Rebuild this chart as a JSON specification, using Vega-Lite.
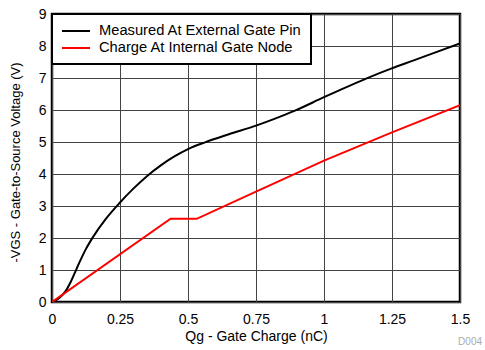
{
  "$schema": "https://vega.github.io/schema/vega-lite/v6.json",
  "width": 408,
  "height": 288,
  "autosize": {"type": "none"},
  "padding": {"left": 52, "top": 14, "right": 25, "bottom": 48},
  "background": "white",
  "config": {
    "font": "Liberation Sans",
    "view": {"stroke": "black", "strokeWidth": 2.5},
    "axis": {
      "domain": false,
      "ticks": false,
      "grid": true,
      "gridColor": "#444",
      "gridWidth": 1,
      "gridOpacity": 1,
      "labelFont": "Liberation Sans",
      "labelFontSize": 14,
      "labelColor": "#000",
      "titleFont": "Liberation Sans",
      "titleFontSize": 14,
      "titleFontWeight": "normal",
      "titleColor": "#000"
    }
  },
  "title": {
    "text": "D004",
    "orient": "bottom",
    "anchor": "end",
    "frame": "group",
    "fontSize": 10,
    "fontWeight": "normal",
    "color": "#aaa",
    "font": "Liberation Sans",
    "dx": 22,
    "offset": -6
  },
  "data": {
    "values": [
      {"q": 0, "v": 0, "s": "Measured At External Gate Pin"},
      {"q": 0.015, "v": 0.06, "s": "Measured At External Gate Pin"},
      {"q": 0.03, "v": 0.15, "s": "Measured At External Gate Pin"},
      {"q": 0.05, "v": 0.34, "s": "Measured At External Gate Pin"},
      {"q": 0.07, "v": 0.65, "s": "Measured At External Gate Pin"},
      {"q": 0.09, "v": 1.03, "s": "Measured At External Gate Pin"},
      {"q": 0.1, "v": 1.22, "s": "Measured At External Gate Pin"},
      {"q": 0.125, "v": 1.66, "s": "Measured At External Gate Pin"},
      {"q": 0.15, "v": 2.02, "s": "Measured At External Gate Pin"},
      {"q": 0.2, "v": 2.62, "s": "Measured At External Gate Pin"},
      {"q": 0.25, "v": 3.11, "s": "Measured At External Gate Pin"},
      {"q": 0.3, "v": 3.55, "s": "Measured At External Gate Pin"},
      {"q": 0.35, "v": 3.94, "s": "Measured At External Gate Pin"},
      {"q": 0.4, "v": 4.27, "s": "Measured At External Gate Pin"},
      {"q": 0.45, "v": 4.55, "s": "Measured At External Gate Pin"},
      {"q": 0.5, "v": 4.78, "s": "Measured At External Gate Pin"},
      {"q": 0.5625, "v": 4.99, "s": "Measured At External Gate Pin"},
      {"q": 0.65, "v": 5.24, "s": "Measured At External Gate Pin"},
      {"q": 0.75, "v": 5.51, "s": "Measured At External Gate Pin"},
      {"q": 0.82, "v": 5.73, "s": "Measured At External Gate Pin"},
      {"q": 0.893, "v": 5.98, "s": "Measured At External Gate Pin"},
      {"q": 1.0, "v": 6.4, "s": "Measured At External Gate Pin"},
      {"q": 1.06, "v": 6.63, "s": "Measured At External Gate Pin"},
      {"q": 1.157, "v": 6.99, "s": "Measured At External Gate Pin"},
      {"q": 1.249, "v": 7.3, "s": "Measured At External Gate Pin"},
      {"q": 1.33, "v": 7.55, "s": "Measured At External Gate Pin"},
      {"q": 1.4, "v": 7.77, "s": "Measured At External Gate Pin"},
      {"q": 1.5, "v": 8.08, "s": "Measured At External Gate Pin"},
      {"q": 0, "v": 0, "s": "Charge At Internal Gate Node"},
      {"q": 0.436, "v": 2.6, "s": "Charge At Internal Gate Node"},
      {"q": 0.532, "v": 2.6, "s": "Charge At Internal Gate Node"},
      {"q": 0.75, "v": 3.45, "s": "Charge At Internal Gate Node"},
      {"q": 1.0, "v": 4.42, "s": "Charge At Internal Gate Node"},
      {"q": 1.25, "v": 5.3, "s": "Charge At Internal Gate Node"},
      {"q": 1.5, "v": 6.15, "s": "Charge At Internal Gate Node"}
    ]
  },
  "encoding": {
    "x": {
      "field": "q",
      "type": "quantitative",
      "scale": {"domain": [0, 1.5], "nice": false, "zero": false},
      "axis": {
        "values": [0, 0.25, 0.5, 0.75, 1, 1.25, 1.5],
        "labelExpr": "datum.value",
        "labelPadding": 10,
        "labelFlush": false,
        "title": "Qg - Gate Charge (nC)",
        "titlePadding": 3
      }
    },
    "y": {
      "field": "v",
      "type": "quantitative",
      "scale": {"domain": [0, 9], "nice": false},
      "axis": {
        "values": [0, 1, 2, 3, 4, 5, 6, 7, 8, 9],
        "labelPadding": 6,
        "labelFlush": false,
        "title": "-VGS - Gate-to-Source Voltage (V)",
        "titleFontSize": 13,
        "titleY": 148,
        "titlePadding": 16
      }
    },
    "color": {
      "field": "s",
      "type": "nominal",
      "scale": {
        "domain": ["Measured At External Gate Pin", "Charge At Internal Gate Node"],
        "range": ["#000000", "#ff0000"]
      },
      "legend": {
        "title": null,
        "orient": "top-left",
        "offset": 0,
        "fillColor": "white",
        "strokeColor": "black",
        "padding": 9,
        "symbolType": "M-2,0L2,0",
        "symbolStrokeWidth": 2,
        "symbolSize": 196,
        "symbolOffset": 7,
        "labelFontSize": 14.7,
        "labelFont": "Liberation Sans",
        "labelColor": "#000",
        "labelOffset": 15,
        "rowPadding": 2,
        "labelLimit": 300,
        "encode": {"legend": {"update": {"strokeWidth": {"value": 2}}}}
      }
    }
  },
  "layer": [
    {
      "transform": [{"filter": "datum.s === 'Measured At External Gate Pin'"}],
      "mark": {"type": "line", "strokeWidth": 2, "interpolate": "monotone", "clip": true}
    },
    {
      "transform": [{"filter": "datum.s === 'Charge At Internal Gate Node'"}],
      "mark": {"type": "line", "strokeWidth": 2, "interpolate": "linear", "clip": true}
    }
  ]
}
